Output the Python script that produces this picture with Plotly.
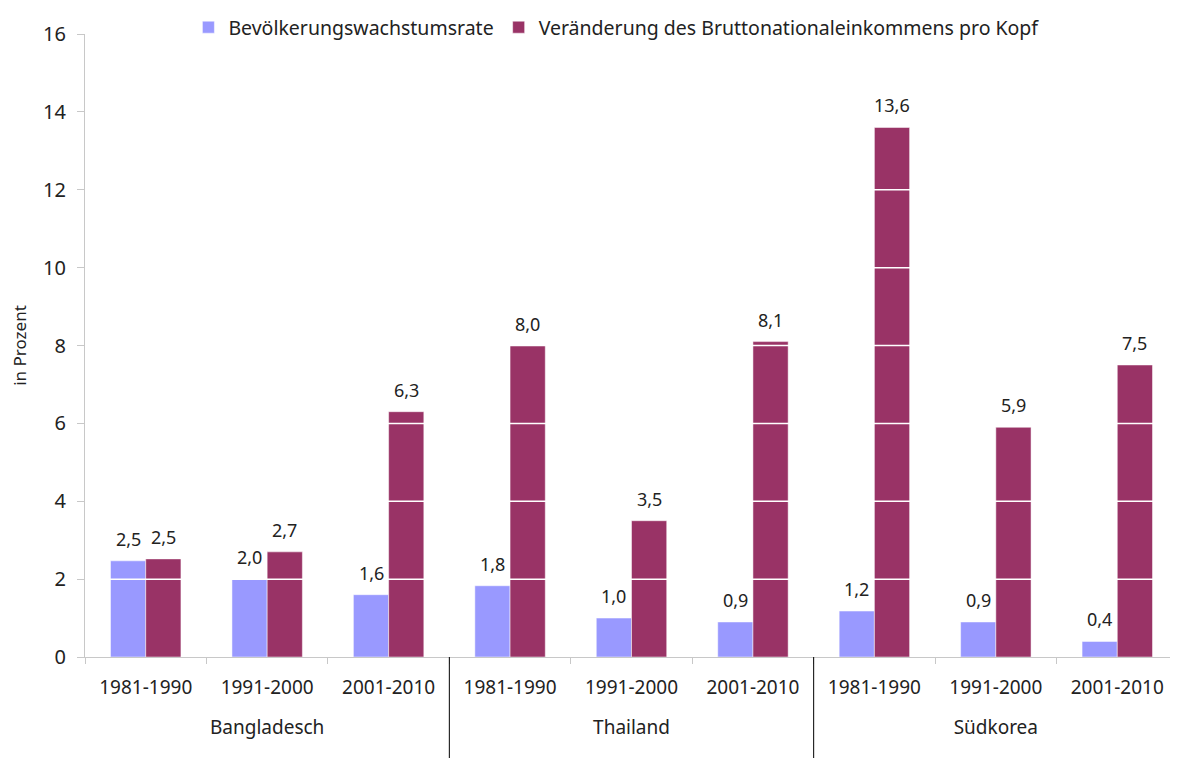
import plotly.graph_objects as go

countries = ["Bangladesch", "Thailand", "Südkorea"]
periods = ["1981-1990", "1991-2000", "2001-2010"]
pop_growth = [2.47, 2.0, 1.6, 1.83, 1.0, 0.9, 1.18, 0.9, 0.4]
gni_change = [2.52, 2.7, 6.3, 8.0, 3.5, 8.1, 13.6, 5.9, 7.5]
y_ticks = [0, 2, 4, 6, 8, 10, 12, 14, 16]

# two-level category axis (group label pushed one line down for spacing)
x_groups = ["<br>" + c for c in countries for _ in periods]
x_periods = [p for _ in countries for p in periods]

FONT = "Noto Sans"
TXT = "#222222"
AX = "#c8c8c8"
BARGAP = 0.42
PLOT_H = 623
MARGIN_B = 101

fig = go.Figure()
fig.add_bar(
    x=[x_groups, x_periods], y=pop_growth, name="Bevölkerungswachstumsrate",
    marker=dict(color="#9999FF", line=dict(color="white", width=0.5)),
)
fig.add_bar(
    x=[x_groups, x_periods], y=gni_change,
    name="Veränderung des Bruttonationaleinkommens pro Kopf",
    marker=dict(color="#993366", line=dict(color="white", width=0.5)),
)

# white gridlines drawn over the bars
for v in y_ticks[1:-1]:
    fig.add_shape(type="line", xref="paper", x0=0, x1=1, yref="y", y0=v, y1=v,
                  line=dict(color="white", width=1.5), layer="above")

# group dividers only between the countries
for k in range(1, len(countries)):
    b = k * len(periods) - 0.5
    fig.add_shape(type="line", xref="x", x0=b, x1=b, yref="paper",
                  y0=0, y1=-MARGIN_B / PLOT_H,
                  line=dict(color="black", width=1), layer="above")

# value labels above bars (German decimal comma)
half = (1 - BARGAP) / 4
for series, off in ((pop_growth, -half), (gni_change, half)):
    for i, v in enumerate(series):
        fig.add_annotation(
            x=i + off, y=v, xref="x", yref="y",
            text=f"{v:.1f}".replace(".", ","), showarrow=False,
            yanchor="bottom", yshift=8,
            font=dict(size=18, color=TXT, family=FONT),
        )

# the page body adds an 8px offset, so the figure is 8px smaller
fig.update_layout(
    width=1170, height=750,
    margin=dict(l=77, r=0, t=26, b=MARGIN_B, autoexpand=False),
    paper_bgcolor="white", plot_bgcolor="white",
    barmode="group", bargap=BARGAP, bargroupgap=0,
    separators=",.",
    font=dict(family=FONT, size=17, color=TXT),
    showlegend=True,
    legend=dict(orientation="h", xref="container", yref="container",
                x=0.52, y=1.0, xanchor="center", yanchor="top",
                font=dict(size=19.5, color=TXT), itemwidth=30,
                tracegroupgap=0),
)
fig.update_xaxes(
    showgrid=False, showline=True, linecolor=AX, linewidth=1,
    ticks="outside", tickson="boundaries", ticklen=6, tickcolor=AX,
    showdividers=False,
    ticklabelstandoff=13,
    tickfont=dict(size=19, color=TXT, family=FONT),
)
fig.update_yaxes(
    range=[0, 16], tickvals=y_ticks, showgrid=False, zeroline=False,
    showline=True, linecolor=AX, linewidth=1,
    ticks="outside", ticklen=7, tickcolor=AX, ticklabelstandoff=7,
    tickfont=dict(size=20, color=TXT, family=FONT),
    title=dict(text="in Prozent", font=dict(size=17, color=TXT, family=FONT), standoff=14),
)

fig.write_html("out.html")
